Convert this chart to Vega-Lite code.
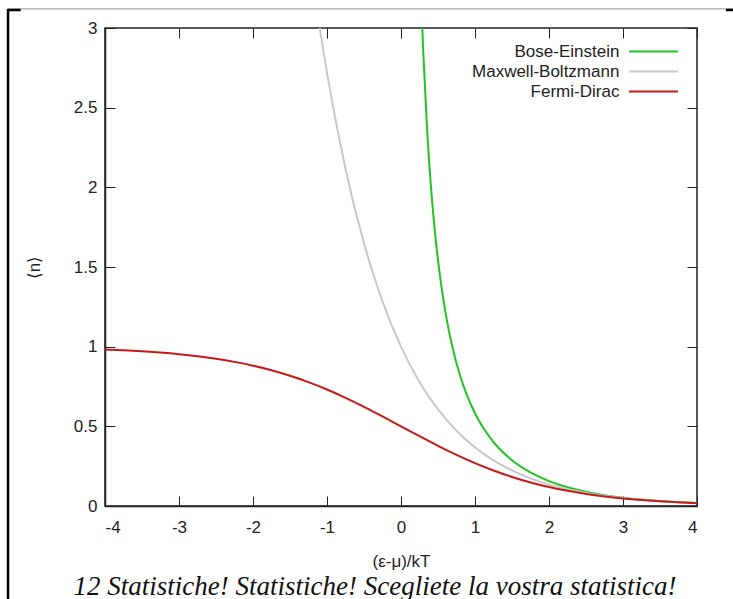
{
  "$schema": "https://vega.github.io/schema/vega-lite/v6.json",
  "width": 592,
  "height": 478,
  "autosize": {"type": "none"},
  "padding": {"left": 105, "top": 28, "right": 36, "bottom": 93},
  "background": "white",
  "config": {
    "view": {"stroke": "#222", "strokeWidth": 1.5},
    "font": "Liberation Sans"
  },
  "datasets": {
    "curves": [
      {"x": 0.25, "y": 3.5208, "s": "Bose-Einstein"},
      {"x": 0.275, "y": 3.1593, "s": "Bose-Einstein"},
      {"x": 0.3, "y": 2.8583, "s": "Bose-Einstein"},
      {"x": 0.35, "y": 2.3862, "s": "Bose-Einstein"},
      {"x": 0.4, "y": 2.0332, "s": "Bose-Einstein"},
      {"x": 0.45, "y": 1.7596, "s": "Bose-Einstein"},
      {"x": 0.5, "y": 1.5415, "s": "Bose-Einstein"},
      {"x": 0.6, "y": 1.2164, "s": "Bose-Einstein"},
      {"x": 0.7, "y": 0.98643, "s": "Bose-Einstein"},
      {"x": 0.8, "y": 0.81597, "s": "Bose-Einstein"},
      {"x": 0.9, "y": 0.68512, "s": "Bose-Einstein"},
      {"x": 1.0, "y": 0.58198, "s": "Bose-Einstein"},
      {"x": 1.1, "y": 0.49896, "s": "Bose-Einstein"},
      {"x": 1.25, "y": 0.40155, "s": "Bose-Einstein"},
      {"x": 1.5, "y": 0.28722, "s": "Bose-Einstein"},
      {"x": 1.75, "y": 0.21032, "s": "Bose-Einstein"},
      {"x": 2.0, "y": 0.15652, "s": "Bose-Einstein"},
      {"x": 2.25, "y": 0.11782, "s": "Bose-Einstein"},
      {"x": 2.5, "y": 0.08943, "s": "Bose-Einstein"},
      {"x": 2.75, "y": 0.06829, "s": "Bose-Einstein"},
      {"x": 3.0, "y": 0.0524, "s": "Bose-Einstein"},
      {"x": 3.25, "y": 0.04034, "s": "Bose-Einstein"},
      {"x": 3.5, "y": 0.03114, "s": "Bose-Einstein"},
      {"x": 3.75, "y": 0.02408, "s": "Bose-Einstein"},
      {"x": 4.0, "y": 0.01866, "s": "Bose-Einstein"},
      {"x": -1.25, "y": 3.49034, "s": "Maxwell-Boltzmann"},
      {"x": -1.1, "y": 3.00417, "s": "Maxwell-Boltzmann"},
      {"x": -1.0, "y": 2.71828, "s": "Maxwell-Boltzmann"},
      {"x": -0.75, "y": 2.117, "s": "Maxwell-Boltzmann"},
      {"x": -0.5, "y": 1.64872, "s": "Maxwell-Boltzmann"},
      {"x": -0.25, "y": 1.28403, "s": "Maxwell-Boltzmann"},
      {"x": 0.0, "y": 1.0, "s": "Maxwell-Boltzmann"},
      {"x": 0.25, "y": 0.7788, "s": "Maxwell-Boltzmann"},
      {"x": 0.5, "y": 0.60653, "s": "Maxwell-Boltzmann"},
      {"x": 0.75, "y": 0.47237, "s": "Maxwell-Boltzmann"},
      {"x": 1.0, "y": 0.36788, "s": "Maxwell-Boltzmann"},
      {"x": 1.25, "y": 0.2865, "s": "Maxwell-Boltzmann"},
      {"x": 1.5, "y": 0.22313, "s": "Maxwell-Boltzmann"},
      {"x": 1.75, "y": 0.17377, "s": "Maxwell-Boltzmann"},
      {"x": 2.0, "y": 0.13534, "s": "Maxwell-Boltzmann"},
      {"x": 2.25, "y": 0.1054, "s": "Maxwell-Boltzmann"},
      {"x": 2.5, "y": 0.08208, "s": "Maxwell-Boltzmann"},
      {"x": 2.75, "y": 0.06393, "s": "Maxwell-Boltzmann"},
      {"x": 3.0, "y": 0.04979, "s": "Maxwell-Boltzmann"},
      {"x": 3.25, "y": 0.03877, "s": "Maxwell-Boltzmann"},
      {"x": 3.5, "y": 0.0302, "s": "Maxwell-Boltzmann"},
      {"x": 3.75, "y": 0.02352, "s": "Maxwell-Boltzmann"},
      {"x": 4.0, "y": 0.01832, "s": "Maxwell-Boltzmann"},
      {"x": -4.0, "y": 0.98201, "s": "Fermi-Dirac"},
      {"x": -3.75, "y": 0.97702, "s": "Fermi-Dirac"},
      {"x": -3.5, "y": 0.97069, "s": "Fermi-Dirac"},
      {"x": -3.25, "y": 0.96267, "s": "Fermi-Dirac"},
      {"x": -3.0, "y": 0.95257, "s": "Fermi-Dirac"},
      {"x": -2.75, "y": 0.93991, "s": "Fermi-Dirac"},
      {"x": -2.5, "y": 0.92414, "s": "Fermi-Dirac"},
      {"x": -2.25, "y": 0.90465, "s": "Fermi-Dirac"},
      {"x": -2.0, "y": 0.8808, "s": "Fermi-Dirac"},
      {"x": -1.75, "y": 0.85195, "s": "Fermi-Dirac"},
      {"x": -1.5, "y": 0.81757, "s": "Fermi-Dirac"},
      {"x": -1.25, "y": 0.7773, "s": "Fermi-Dirac"},
      {"x": -1.0, "y": 0.73106, "s": "Fermi-Dirac"},
      {"x": -0.75, "y": 0.67918, "s": "Fermi-Dirac"},
      {"x": -0.5, "y": 0.62246, "s": "Fermi-Dirac"},
      {"x": -0.25, "y": 0.56218, "s": "Fermi-Dirac"},
      {"x": 0.0, "y": 0.5, "s": "Fermi-Dirac"},
      {"x": 0.25, "y": 0.43782, "s": "Fermi-Dirac"},
      {"x": 0.5, "y": 0.37754, "s": "Fermi-Dirac"},
      {"x": 0.75, "y": 0.32082, "s": "Fermi-Dirac"},
      {"x": 1.0, "y": 0.26894, "s": "Fermi-Dirac"},
      {"x": 1.25, "y": 0.2227, "s": "Fermi-Dirac"},
      {"x": 1.5, "y": 0.18243, "s": "Fermi-Dirac"},
      {"x": 1.75, "y": 0.14805, "s": "Fermi-Dirac"},
      {"x": 2.0, "y": 0.1192, "s": "Fermi-Dirac"},
      {"x": 2.25, "y": 0.09535, "s": "Fermi-Dirac"},
      {"x": 2.5, "y": 0.07586, "s": "Fermi-Dirac"},
      {"x": 2.75, "y": 0.06009, "s": "Fermi-Dirac"},
      {"x": 3.0, "y": 0.04743, "s": "Fermi-Dirac"},
      {"x": 3.25, "y": 0.03733, "s": "Fermi-Dirac"},
      {"x": 3.5, "y": 0.02931, "s": "Fermi-Dirac"},
      {"x": 3.75, "y": 0.02298, "s": "Fermi-Dirac"},
      {"x": 4.0, "y": 0.01799, "s": "Fermi-Dirac"}
    ]
  },
  "title": {
    "text": "12 Statistiche! Statistiche! Scegliete la vostra statistica!",
    "orient": "bottom",
    "frame": "group",
    "baseline": "alphabetic",
    "font": "Liberation Serif",
    "fontStyle": "italic",
    "fontWeight": "normal",
    "fontSize": 27,
    "color": "#111",
    "offset": -5,
    "dx": -26
  },
  "layer": [
    {
      "data": {"name": "curves"},
      "mark": {"type": "line", "clip": true, "strokeWidth": 2, "interpolate": "monotone"},
      "encoding": {
        "x": {
          "field": "x", "type": "quantitative",
          "scale": {"domain": [-4, 4], "nice": false, "zero": false},
          "axis": {
            "orient": "bottom", "values": [-4, -3, -2, -1, 0, 1, 2, 3, 4],
            "labelExpr": "'' + datum.value",
            "tickSize": -10, "tickColor": "#222", "domainColor": "#222", "domainWidth": 1.5,
            "grid": false, "labelFontSize": 17, "labelColor": "#222", "labelPadding": 23,
            "labelFont": "Liberation Sans",
            "title": "(ε-μ)/kT", "titleFontSize": 17, "titleFontWeight": "normal",
            "titleColor": "#222", "titlePadding": 18, "titleFont": "Liberation Sans"
          }
        },
        "y": {
          "field": "y", "type": "quantitative",
          "scale": {"domain": [0, 3], "nice": false, "zero": false},
          "axis": {
            "orient": "left", "values": [0, 0.5, 1, 1.5, 2, 2.5, 3], "format": "~g",
            "tickSize": -10, "tickColor": "#222", "domainColor": "#222", "domainWidth": 1.5,
            "grid": false, "labelFontSize": 17, "labelColor": "#222", "labelPadding": 18,
            "labelFont": "Liberation Sans",
            "title": "⟨n⟩", "titleFontSize": 17, "titleFontWeight": "normal",
            "titleColor": "#222", "titlePadding": 30, "titleFont": "Liberation Sans"
          }
        },
        "color": {
          "field": "s", "type": "nominal",
          "scale": {
            "domain": ["Bose-Einstein", "Maxwell-Boltzmann", "Fermi-Dirac"],
            "range": ["#22c422", "#c8c8c8", "#c41a1a"]
          },
          "legend": {
            "orient": "none", "legendX": 539, "legendY": 14, "title": null,
            "symbolType": "M-3,0H3",
            "symbolSize": 267, "symbolStrokeWidth": 2, "labelAlign": "right",
            "labelOffset": -43.6, "labelFontSize": 17, "labelFont": "Liberation Sans",
            "labelColor": "#222", "padding": 0, "rowPadding": 2
          }
        }
      }
    },
    {
      "data": {"name": "curves"},
      "mark": {"type": "line", "opacity": 0},
      "encoding": {
        "x": {
          "field": "x", "type": "quantitative",
          "axis": {
            "orient": "top", "values": [-4, -3, -2, -1, 0, 1, 2, 3, 4], "labels": false,
            "tickSize": -10, "tickColor": "#222", "domain": false, "grid": false, "title": null
          }
        },
        "y": {
          "field": "y", "type": "quantitative",
          "axis": {
            "orient": "right", "values": [0, 0.5, 1, 1.5, 2, 2.5, 3], "labels": false,
            "tickSize": -10, "tickColor": "#222", "domain": false, "grid": false, "title": null
          }
        }
      }
    },
    {
      "data": {"values": [{}]},
      "mark": {"type": "rule", "color": "#000", "strokeWidth": 2.5},
      "encoding": {
        "x": {"datum": -5.31, "type": "quantitative", "axis": null},
        "y": {"datum": -0.584, "type": "quantitative", "axis": null},
        "y2": {"datum": 3.12}
      }
    },
    {
      "data": {"values": [{}]},
      "mark": {"type": "rule", "color": "#999", "strokeWidth": 1},
      "encoding": {
        "x": {"datum": -5.31, "type": "quantitative", "axis": null},
        "x2": {"datum": 4.5},
        "y": {"datum": 3.12, "type": "quantitative", "axis": null}
      }
    },
    {
      "data": {"values": [{}]},
      "mark": {"type": "rule", "color": "#000", "strokeWidth": 2.5},
      "encoding": {
        "x": {"datum": -5.32, "type": "quantitative", "axis": null},
        "x2": {"datum": -5.14},
        "y": {"datum": 3.113, "type": "quantitative", "axis": null}
      }
    },
    {
      "data": {"values": [{}]},
      "mark": {"type": "rule", "color": "#000", "strokeWidth": 2.5},
      "encoding": {
        "x": {"datum": 4.39, "type": "quantitative", "axis": null},
        "x2": {"datum": 4.5},
        "y": {"datum": 3.113, "type": "quantitative", "axis": null}
      }
    }
  ],
  "resolve": {"axis": {"x": "independent", "y": "independent"}}
}
